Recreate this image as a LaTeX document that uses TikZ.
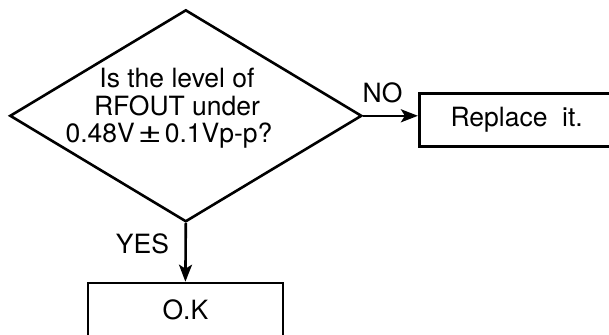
\documentclass[tikz,border=0pt]{standalone}
\usepackage{fontspec}
\usepackage{graphicx}
\setmainfont{TeX Gyre Heros}
\usetikzlibrary{shapes.geometric,arrows.meta}
\newcommand{\wpm}{\makebox[30pt]{\raisebox{0.5pt}{\scalebox{1.55}[1.1]{±}}}}
\begin{document}
\begin{tikzpicture}[x=1pt,y=-1pt,
  line width=2.6pt,
  txt/.style={font=\fontsize{26.5}{27.5}\selectfont, inner sep=0pt},
  decision/.style={draw, shape=diamond, inner sep=0pt, minimum width=352pt, minimum height=212pt},
  outbox/.style={draw, rectangle, minimum width=195pt, minimum height=53.4pt, txt},
  flow/.style={draw, -{Stealth[length=17pt,width=13pt,inset=4pt]}}]
\useasboundingbox (0,0) rectangle (609,334);
\clip (0,0) rectangle (609,334);
\node[decision] (d) at (185.8,115.8) {};
\node[txt, align=center] (q) at (177,108.5) {Is the level of\\RFOUT under\\\hspace*{-16pt}0.48V\wpm0.1Vp-p?};
\node[outbox] (r) at (516.7,120) {Replace\ \ it.};
\node[outbox] (k) at (185.4,309.7) {O.K};
\draw[flow] (d.east) -- (d.east -| r.west);
\draw[flow] (d.south) -- (k.north);
\node[txt] (no) at (382.5,93) {NO};
\node[txt] (yes) at (142.5,244) {YES};
\end{tikzpicture}
\end{document}
